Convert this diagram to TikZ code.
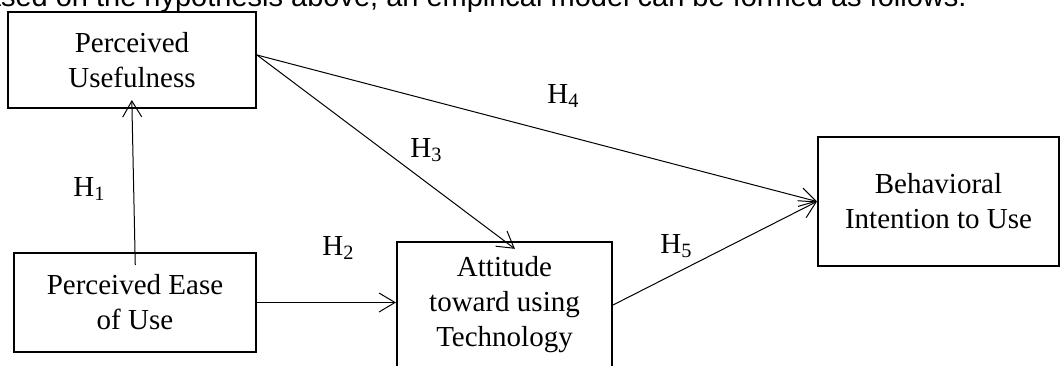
\documentclass[tikz,border=0pt]{standalone}
\usepackage{fontspec}
\setmainfont{Liberation Serif}
\newfontfamily\arialfont{Liberation Sans}
\usetikzlibrary{arrows.meta}
\begin{document}
\begin{tikzpicture}[x=0.5pt, y=-0.5pt,
  box/.style={draw, line width=1pt, align=center, inner sep=0pt,
    font=\fontsize{14.5}{17.5}\selectfont},
  link/.style={-{Straight Barb[length=8pt,width=9.5pt]}, line width=0.5pt},
  hyp/.style={anchor=base west, inner sep=0pt, font=\fontsize{14.5}{17.5}\selectfont}]
\useasboundingbox (0,0) rectangle (1062,365);
\clip (0,0) rectangle (1062,365);
% header line, cut off by the page
\node[anchor=base east, inner sep=0pt, font=\arialfont\fontsize{14.5}{17}\selectfont] (head) at (967,6.5)
  {Based on the hypothesis above, an empirical model can be formed as follows.};
% constructs
\node[box, minimum width=124pt, minimum height=48pt] (pu) at (132,60) {Perceived\\Usefulness};
\node[box, minimum width=121pt, minimum height=49.5pt] (peu) at (135,302.5) {Perceived Ease\\of Use};
\node[box, minimum width=107.5pt, minimum height=63pt] (att) at (504.5,305) {Attitude\\toward using\\Technology};
\node[box, minimum width=120.5pt, minimum height=64.5pt] (bi) at (938.5,201.5) {Behavioral\\Intention to Use};
% hypotheses
\draw[link, shorten <=-6.5pt, shorten >=-4.5pt] (peu.north) -- (pu.south);
\draw[link] (peu.east) -- (peu.east -| att.west);
\draw[link, shorten >=-6.5pt] ([yshift=2.5pt]pu.east) -- (att.north);
\draw[link] ([yshift=2.5pt]pu.east) -- (bi.west);
\draw[link] (att.east) -- (bi.west);
\node[hyp] (h1) at (73,196) {H\textsubscript{1}};
\node[hyp] (h2) at (322,255) {H\textsubscript{2}};
\node[hyp] (h3) at (410,157) {H\textsubscript{3}};
\node[hyp] (h4) at (547,103) {H\textsubscript{4}};
\node[hyp] (h5) at (660,253) {H\textsubscript{5}};
\end{tikzpicture}
\end{document}
